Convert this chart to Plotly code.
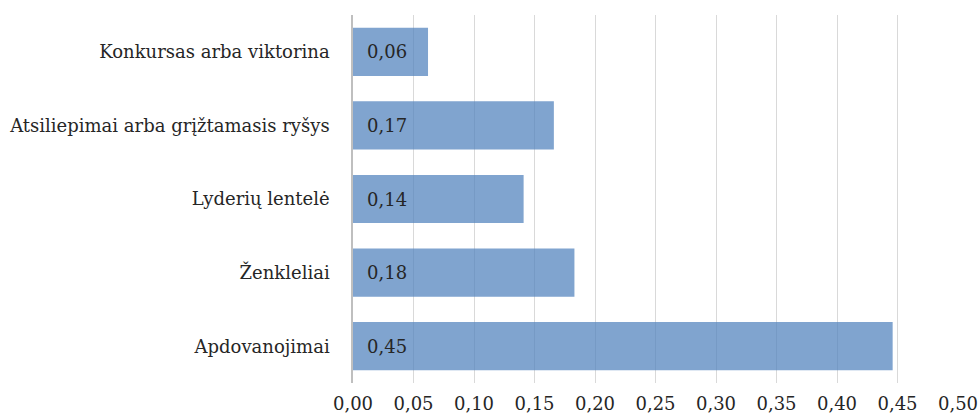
import plotly.graph_objects as go

# Categories listed bottom-to-top as they appear on the axis
categories = [
    "Apdovanojimai",
    "Ženkleliai",
    "Lyderių lentelė",
    "Atsiliepimai arba grįžtamasis ryšys",
    "Konkursas arba viktorina",
]
values = [0.446, 0.183, 0.141, 0.166, 0.062]
tick_vals = [0.0, 0.05, 0.10, 0.15, 0.20, 0.25, 0.30, 0.35, 0.40, 0.45, 0.50]

FONT = "DejaVu Serif"
FONT_SIZE = 18
TEXT_COLOR = "#262626"

fig = go.Figure(
    go.Bar(
        x=values,
        y=categories,
        orientation="h",
        width=0.655,
        marker=dict(color="rgba(79,129,189,0.72)", line=dict(width=0)),
        hoverinfo="skip",
    )
)

# Value labels placed near the bar base
for cat, v in zip(categories, values):
    fig.add_annotation(
        x=0, y=cat, text=f"{v:.2f}".replace(".", ","),
        xanchor="left", xshift=12, showarrow=False,
        font=dict(family=FONT, size=FONT_SIZE, color=TEXT_COLOR),
    )

fig.update_layout(
    width=978, height=420,
    margin=dict(l=353, r=20, t=15, b=37, autoexpand=False),
    plot_bgcolor="white", paper_bgcolor="white",
    showlegend=False,
    separators=",.",
    font=dict(family=FONT, size=FONT_SIZE, color=TEXT_COLOR),
)
fig.update_xaxes(
    range=[0, 0.5], tickvals=tick_vals, tickformat=".2f",
    showgrid=True, gridcolor="#d9d9d9", gridwidth=1.3,
    zeroline=False, showline=False, ticks="", automargin=False,
    tickfont=dict(family=FONT, size=FONT_SIZE, color=TEXT_COLOR),
    ticklabelstandoff=8, ticklabeloverflow="allow",
)
fig.update_yaxes(
    range=[-0.5, 4.5], showgrid=False, zeroline=False, automargin=False,
    showline=True, linecolor="#bfbfbf", linewidth=1.5, ticks="",
    tickfont=dict(family=FONT, size=FONT_SIZE, color=TEXT_COLOR),
    ticklabelstandoff=18,
)

fig.write_html("out.html")
